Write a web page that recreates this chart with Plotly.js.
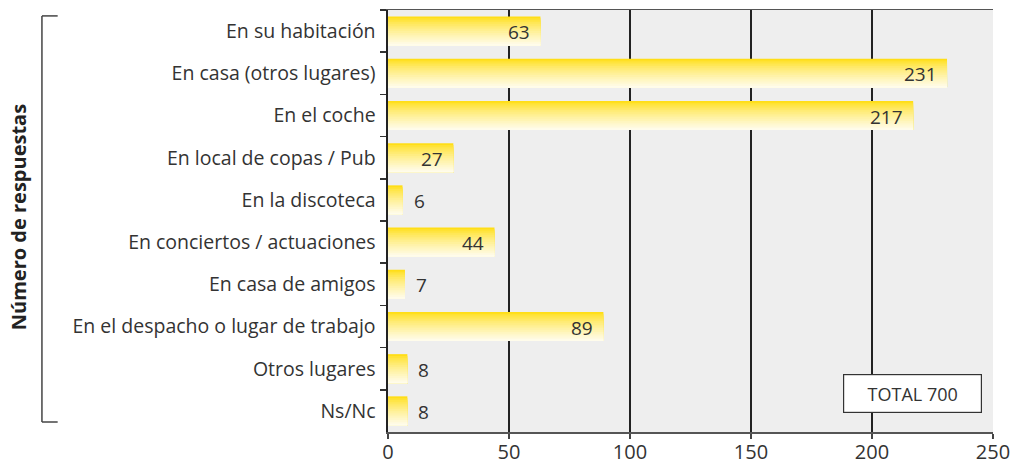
<!DOCTYPE html>
<html>
<head>
<meta charset="utf-8">
<script src="https://cdn.plot.ly/plotly-3.0.1.min.js"></script>
<style>html,body{margin:0;padding:0;background:#fff;}#chart{width:1016px;height:464px;}</style>
</head>
<body>
<div id="chart"></div>
<script>
const categories = [
  "En su habitación",
  "En casa (otros lugares)",
  "En el coche",
  "En local de copas / Pub",
  "En la discoteca",
  "En conciertos / actuaciones",
  "En casa de amigos",
  "En el despacho o lugar de trabajo",
  "Otros lugares",
  "Ns/Nc"
];
const values = [63, 231, 217, 27, 6, 44, 7, 89, 8, 8];
const xTicks = [0, 50, 100, 150, 200, 250];
const totalLabel = "TOTAL 700";
const yTitle = "Número de respuestas";

const FONT = "Open Sans, Lato, sans-serif";
const barW = 0.69;
const N = 16;
const colTop = [255, 222, 23], colBot = [255, 252, 235];
const traces = [];
for (let i = 0; i < N; i++) {
  const t = i / (N - 1);
  const c = colTop.map((v, k) => Math.round(v + (colBot[k] - v) * Math.pow(t, 0.75)));
  traces.push({
    type: 'bar', orientation: 'h',
    y: categories, x: values,
    width: barW - i * barW / N,
    offset: -barW / 2 + i * barW / N,
    marker: {color: `rgb(${c[0]},${c[1]},${c[2]})`, line: {width: 0}},
    hoverinfo: 'skip', showlegend: false
  });
}

const labelAnns = values.map((v, i) => {
  const inside = v >= 20;
  return {
    xref: 'x', yref: 'y', x: v, y: categories[i], text: String(v), showarrow: false,
    xanchor: inside ? 'right' : 'left', xshift: inside ? -8 : 9, yshift: -1,
    font: {family: FONT, size: 19, color: '#333'}
  };
});

const layout = {
  width: 1016, height: 464,
  margin: {l: 388, r: 23, t: 10, b: 32},
  paper_bgcolor: '#fff',
  plot_bgcolor: '#eeeeee',
  barmode: 'overlay',
  font: {family: FONT, color: '#333'},
  xaxis: {
    range: [0, 250], tickvals: xTicks, ticktext: xTicks.map(String),
    showgrid: true, gridcolor: '#222', gridwidth: 1.5,
    zeroline: false,
    showline: true, linecolor: '#555', linewidth: 1.5, mirror: true,
    ticks: 'outside', ticklen: 5, tickcolor: '#444', tickwidth: 1.5,
    tickfont: {family: FONT, size: 20, color: '#333'},
    ticklabelstandoff: -4
  },
  yaxis: {
    type: 'category', autorange: 'reversed',
    showgrid: false, zeroline: false,
    showline: true, linecolor: '#222', linewidth: 2.5,
    ticks: 'outside', tickson: 'boundaries', ticklen: 6, tickcolor: '#333', tickwidth: 1.5,
    tickfont: {family: FONT, size: 19.5, color: '#333'},
    ticklabelstandoff: 6
  },
  shapes: [
    {type: 'line', xref: 'paper', yref: 'paper', x0: -0.572, x1: -0.572, y0: 0.0237, y1: 0.986, line: {color: '#444', width: 1.5}},
    {type: 'line', xref: 'paper', yref: 'paper', x0: -0.572, x1: -0.546, y0: 0.986, y1: 0.986, line: {color: '#444', width: 1.5}},
    {type: 'line', xref: 'paper', yref: 'paper', x0: -0.572, x1: -0.546, y0: 0.0237, y1: 0.0237, line: {color: '#444', width: 1.5}}
  ],
  annotations: labelAnns.concat([
    {xref: 'paper', yref: 'paper', x: -0.6116, y: 0.509, text: '<b>' + yTitle + '</b>', textangle: -90,
     showarrow: false, font: {family: FONT, size: 20, color: '#222'}, xanchor: 'center', yanchor: 'middle'},
    {xref: 'x', yref: 'paper', x: 216.7, y: 0.091, text: totalLabel, showarrow: false,
     font: {family: FONT, size: 18, color: '#333'}, bgcolor: '#fff', bordercolor: '#333', borderwidth: 1.2,
     borderpad: 0, xanchor: 'center', yanchor: 'middle', width: 137, height: 37}
  ])
};

Plotly.newPlot('chart', traces, layout, {staticPlot: true, displayModeBar: false});
</script>
</body>
</html>
